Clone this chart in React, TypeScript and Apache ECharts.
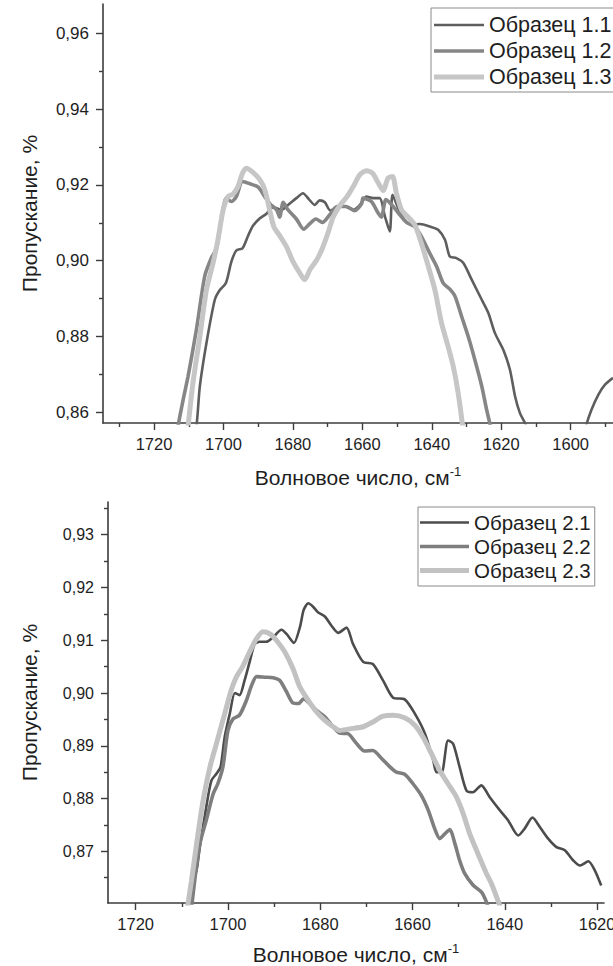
import React, { useEffect, useRef } from 'react';
import * as echarts from 'echarts';

// ---------- data: [wavenumber, transmittance] ----------
const s11a = [
  [1708.9, 0.853], [1707.8, 0.8563], [1706.8, 0.8669], [1704.9, 0.8783], [1702.5, 0.8897], [1701.1, 0.8922],
  [1699.3, 0.8941], [1697.7, 0.8998], [1696.3, 0.9027], [1694.5, 0.9033], [1692.9, 0.9066], [1691.5, 0.9092],
  [1689.5, 0.9112], [1687.6, 0.9124], [1685.7, 0.9141], [1683.3, 0.9134], [1681.4, 0.9147], [1679.0, 0.9165],
  [1677.1, 0.9178], [1675.3, 0.9161], [1673.7, 0.9147], [1672.3, 0.9159], [1670.8, 0.9154], [1669.2, 0.9132],
  [1667.5, 0.9141], [1665.0, 0.9143], [1662.6, 0.9134], [1660.7, 0.9147], [1658.8, 0.9169], [1656.9, 0.9165],
  [1655.0, 0.9165], [1653.5, 0.9117], [1652.1, 0.9077], [1651.3, 0.9174], [1649.7, 0.9139], [1648.2, 0.9112],
  [1645.8, 0.9095], [1643.4, 0.9097], [1640.5, 0.909], [1638.1, 0.9081], [1636.2, 0.9055], [1634.8, 0.9011],
  [1632.9, 0.9007], [1630.9, 0.8994], [1628.5, 0.895], [1625.6, 0.8897], [1623.7, 0.8862], [1621.8, 0.8809],
  [1619.4, 0.8765], [1617.5, 0.8713], [1616.0, 0.8642], [1614.6, 0.8598], [1612.7, 0.8563], [1612.0, 0.853],
];
const s11b = [
  [1596.2, 0.853], [1595.6, 0.8563], [1594.0, 0.8607], [1592.0, 0.8647], [1590.1, 0.8673], [1587.8, 0.8691],
];
const s12 = [
  [1713.5, 0.853], [1713.1, 0.8563], [1711.6, 0.8634], [1710.2, 0.8695], [1707.8, 0.8818], [1705.4, 0.8959],
  [1703.5, 0.9007], [1702.0, 0.9033], [1700.6, 0.9108], [1699.2, 0.9165], [1697.7, 0.9156], [1696.3, 0.9169],
  [1694.5, 0.9209], [1692.4, 0.9203], [1690.0, 0.9194], [1688.1, 0.9169], [1686.6, 0.915], [1684.7, 0.9134],
  [1683.8, 0.9115], [1682.8, 0.9154], [1681.4, 0.9134], [1679.0, 0.911], [1676.9, 0.9083], [1675.2, 0.9097],
  [1673.4, 0.911], [1671.5, 0.9101], [1669.4, 0.9121], [1667.3, 0.9143], [1664.6, 0.9143], [1662.2, 0.9132],
  [1660.2, 0.915], [1659.8, 0.9165], [1657.4, 0.9156], [1655.4, 0.9125], [1654.5, 0.9115], [1653.2, 0.9161],
  [1651.1, 0.9143], [1649.2, 0.9121], [1647.3, 0.9101], [1644.9, 0.909], [1643.0, 0.9064], [1640.6, 0.902],
  [1638.6, 0.8985], [1636.7, 0.8941], [1634.8, 0.8925], [1633.3, 0.8906], [1631.4, 0.8853], [1629.5, 0.88],
  [1627.6, 0.8739], [1625.6, 0.8669], [1624.2, 0.8607], [1623.1, 0.8563], [1622.7, 0.853],
];
const s13 = [
  [1710.6, 0.853], [1710.2, 0.8563], [1708.8, 0.8677], [1706.8, 0.88], [1704.9, 0.8923], [1703.0, 0.8994],
  [1701.6, 0.9055], [1700.1, 0.9134], [1698.7, 0.9169], [1697.2, 0.9176], [1695.8, 0.9196], [1694.5, 0.9231],
  [1693.4, 0.9244], [1691.5, 0.9233], [1689.5, 0.9213], [1688.1, 0.9187], [1686.7, 0.9134], [1685.5, 0.909],
  [1683.8, 0.9066], [1681.9, 0.9038], [1680.0, 0.8998], [1678.0, 0.8967], [1676.6, 0.895], [1675.0, 0.8978],
  [1673.2, 0.9001], [1671.5, 0.9033], [1669.9, 0.9073], [1668.4, 0.9115], [1666.5, 0.9145], [1664.4, 0.9169],
  [1662.6, 0.9196], [1660.7, 0.9227], [1658.8, 0.9237], [1657.1, 0.9231], [1655.4, 0.9205], [1654.0, 0.9185],
  [1652.6, 0.9218], [1651.3, 0.9222], [1650.2, 0.9178], [1648.7, 0.9134], [1646.8, 0.9115], [1644.9, 0.9095],
  [1643.0, 0.9046], [1641.0, 0.8985], [1639.1, 0.8923], [1637.2, 0.8836], [1635.3, 0.8774], [1633.8, 0.8721],
  [1632.4, 0.8651], [1631.1, 0.8563], [1630.8, 0.853],
];
const s21 = [
  [1708.9, 0.857], [1707.6, 0.8645], [1706.8, 0.8664], [1706.1, 0.8708], [1704.7, 0.8784], [1703.6, 0.8834],
  [1702.5, 0.8847], [1701.6, 0.886], [1700.7, 0.8917], [1699.6, 0.8961], [1698.5, 0.9], [1697.5, 0.8996],
  [1696.4, 0.9024], [1695.3, 0.9059], [1694.2, 0.9093], [1693.1, 0.9097], [1691.7, 0.9097], [1690.2, 0.9106],
  [1688.4, 0.912], [1687.3, 0.9112], [1685.7, 0.9095], [1684.4, 0.9125], [1683.6, 0.9157], [1682.6, 0.917],
  [1681.6, 0.9164], [1680.5, 0.9153], [1679.0, 0.9145], [1677.6, 0.9128], [1676.1, 0.9114], [1674.3, 0.9124],
  [1672.9, 0.9093], [1670.7, 0.9059], [1668.6, 0.9055], [1666.4, 0.9024], [1664.2, 0.8991], [1661.7, 0.8988],
  [1659.5, 0.8961], [1657.3, 0.8923], [1655.5, 0.8872], [1654.8, 0.885], [1653.7, 0.885], [1652.3, 0.891],
  [1651.2, 0.8904], [1649.8, 0.886], [1648.3, 0.8815], [1646.9, 0.8812], [1645.1, 0.8825], [1643.3, 0.8803],
  [1641.1, 0.8778], [1639.3, 0.8759], [1637.1, 0.873], [1635.7, 0.8743], [1634.0, 0.8764], [1632.4, 0.8746],
  [1630.6, 0.8724], [1628.8, 0.8708], [1627.0, 0.8702], [1625.2, 0.8683], [1623.7, 0.8673], [1621.9, 0.8681],
  [1620.5, 0.8664], [1619.1, 0.8635],
];
const s22 = [
  [1708.2, 0.857], [1707.2, 0.8645], [1706.1, 0.8714], [1704.7, 0.8759], [1703.2, 0.8809], [1702.2, 0.8828],
  [1701.1, 0.886], [1700.0, 0.8929], [1698.9, 0.8951], [1697.5, 0.8958], [1696.0, 0.8986], [1694.9, 0.9014],
  [1693.8, 0.9031], [1692.0, 0.903], [1690.2, 0.9029], [1688.8, 0.9024], [1687.3, 0.9002], [1685.9, 0.8981],
  [1684.7, 0.898], [1683.6, 0.8989], [1682.3, 0.898], [1680.8, 0.8967], [1679.0, 0.8955], [1677.2, 0.8936],
  [1675.8, 0.8924], [1674.0, 0.8923], [1672.2, 0.8905], [1670.4, 0.889], [1668.6, 0.8891], [1666.7, 0.8876],
  [1664.9, 0.886], [1663.5, 0.885], [1661.7, 0.8846], [1659.9, 0.8828], [1658.1, 0.8806], [1656.6, 0.8778],
  [1655.2, 0.8743], [1654.1, 0.8724], [1653.0, 0.8733], [1651.9, 0.8741], [1650.8, 0.8714], [1649.8, 0.8683],
  [1648.7, 0.8658], [1646.9, 0.8636], [1645.0, 0.8622], [1643.9, 0.8602], [1643.5, 0.859],
];
const s23 = [
  [1709.2, 0.857], [1707.9, 0.8645], [1706.8, 0.8714], [1705.4, 0.8796], [1703.9, 0.886], [1702.5, 0.8904],
  [1700.7, 0.8961], [1699.3, 0.9005], [1698.2, 0.903], [1696.7, 0.9052], [1695.3, 0.9078], [1693.8, 0.9103],
  [1692.4, 0.9116], [1690.9, 0.9112], [1689.5, 0.91], [1687.7, 0.9078], [1685.9, 0.9046], [1684.4, 0.9011],
  [1682.6, 0.8986], [1680.8, 0.8964], [1679.0, 0.8948], [1677.2, 0.8936], [1675.8, 0.8929], [1673.6, 0.8932],
  [1670.7, 0.8936], [1668.6, 0.8945], [1666.4, 0.8956], [1664.2, 0.8958], [1661.7, 0.8953], [1659.5, 0.8939],
  [1657.7, 0.8916], [1655.9, 0.8885], [1654.1, 0.8853], [1652.3, 0.8828], [1650.5, 0.8803], [1649.0, 0.8771],
  [1647.6, 0.8733], [1645.8, 0.8695], [1644.0, 0.8658], [1642.9, 0.8639], [1641.0, 0.8595],
];

const topNames = ['Образец 1.1', 'Образец 1.2', 'Образец 1.3'];
const botNames = ['Образец 2.1', 'Образец 2.2', 'Образец 2.3'];
const topXTicks = [1720, 1700, 1680, 1660, 1640, 1620, 1600];
const topYTicks = [0.86, 0.88, 0.9, 0.92, 0.94, 0.96];
const botXTicks = [1720, 1700, 1680, 1660, 1640, 1620];
const botYTicks = [0.87, 0.88, 0.89, 0.9, 0.91, 0.92, 0.93];

const FONT = '"Liberation Sans", Arial, sans-serif';
const AX = '#3c3c3c';
const TXT = '#1e1e1e';
const C1 = '#5e5e5e', C2 = '#868686', C3 = '#c6c6c6';
const D1 = '#4c4c4c', D2 = '#7e7e7e', D3 = '#c2c2c2';
const W1 = 2.6, W2 = 3.6, W3 = 5;

// legend icon: a horizontal bar of thickness t inside a 50 x 14 box
function barIcon(t: number) {
  const a = (14 - t) / 2, b = a + t;
  return `path://M0,0L0.01,0L0.01,0.01Z M0,${a}L50,${a}L50,${b}L0,${b}Z M49.99,14L50,14L50,13.99Z`;
}

function xAxis(gridIndex: number, min: number, max: number, split: number, ticks: number[]) {
  return {
    gridIndex, type: 'value', inverse: true, min, max, splitNumber: split,
    axisLine: { show: true, onZero: false, lineStyle: { color: AX, width: 1.6 } },
    axisTick: { show: true, length: 7, customValues: ticks, lineStyle: { color: AX, width: 1.4 } },
    minorTick: { show: true, splitNumber: 2, length: 4, lineStyle: { color: AX, width: 1.4 } },
    splitLine: { show: false },
    axisLabel: {
      customValues: ticks, margin: 12, fontSize: 16.5, color: TXT, fontFamily: FONT,
      formatter: (v: number) => String(Math.round(v)),
    },
    name: '{a|Волновое число, см}{s|-1}',
    nameLocation: 'middle',
    nameGap: gridIndex === 0 ? 42 : 39,
    nameTextStyle: {
      rich: {
        a: { fontSize: 21, fontFamily: FONT, color: TXT, lineHeight: 24 },
        s: { fontSize: 13, fontFamily: FONT, color: TXT, verticalAlign: 'top', lineHeight: 14 },
      },
    },
  };
}

function yAxis(gridIndex: number, min: number, max: number, split: number, ticks: number[], fs: number, gap: number) {
  return {
    gridIndex, type: 'value', min, max, splitNumber: split,
    axisLine: { show: true, onZero: false, lineStyle: { color: AX, width: 1.6 } },
    axisTick: { show: true, length: 7, customValues: ticks, lineStyle: { color: AX, width: 1.4 } },
    minorTick: { show: true, splitNumber: 2, length: 4, lineStyle: { color: AX, width: 1.4 } },
    splitLine: { show: false },
    axisLabel: {
      customValues: ticks, margin: 14, fontSize: fs, color: TXT, fontFamily: FONT,
      formatter: (v: number) => v.toFixed(2).replace('.', ','),
    },
    name: 'Пропускание, %',
    nameLocation: 'middle',
    nameRotate: 90,
    nameGap: gap,
    nameTextStyle: { fontSize: 21, fontFamily: FONT, color: TXT },
  };
}

function line(name: string, data: number[][], idx: number, color: string, width: number) {
  return {
    type: 'line', name, data, xAxisIndex: idx, yAxisIndex: idx,
    showSymbol: false, symbol: 'none', smooth: 0.25, clip: true,
    lineStyle: { color, width }, itemStyle: { color },
  };
}

export default function App() {
  const ref = useRef<HTMLDivElement>(null);
  useEffect(() => {
    const chart = echarts.init(ref.current!, null, { renderer: 'svg' });
    chart.setOption({
      animation: false,
      backgroundColor: '#ffffff',
      grid: [
        { left: 103, top: 4, right: 0, height: 419, containLabel: false, outerBoundsMode: 'none' },
        { left: 108, top: 502, width: 496, height: 401, containLabel: false, outerBoundsMode: 'none' },
      ],
      xAxis: [
        xAxis(0, 1587.8, 1734.7, 7, topXTicks),
        xAxis(1, 1618.5, 1726.0, 5, botXTicks),
      ],
      yAxis: [
        yAxis(0, 0.8572, 0.9677, 5, topYTicks, 17, 63),
        yAxis(1, 0.8602, 0.9362, 7, botYTicks, 16, 68),
      ],
      legend: [
        {
          data: topNames.map((n, i) => ({ name: n, icon: barIcon([W1, W2, W3][i]) })),
          orient: 'vertical', left: 431, top: 8, selectedMode: false,
          itemWidth: 50, itemHeight: 14, itemGap: 4, padding: [6, 3, 4, 3],
          borderColor: '#8a8a8a', borderWidth: 1, backgroundColor: '#fff',
          textStyle: { fontSize: 21.5, fontFamily: FONT, color: TXT, lineHeight: 22 },
        },
        {
          data: botNames.map((n, i) => ({ name: n, icon: barIcon([W1, W2, W3][i]) })),
          orient: 'vertical', left: 418, top: 507, selectedMode: false,
          itemWidth: 49, itemHeight: 14, itemGap: 3, padding: [5, 4, 5, 2],
          borderColor: '#8a8a8a', borderWidth: 1, backgroundColor: '#fff',
          textStyle: { fontSize: 20.5, fontFamily: FONT, color: TXT, lineHeight: 21 },
        },
      ],
      series: [
        line(topNames[0], s11a, 0, C1, W1),
        line(topNames[0], s11b, 0, C1, W1),
        line(topNames[1], s12, 0, C2, W2),
        line(topNames[2], s13, 0, C3, W3),
        line(botNames[0], s21, 1, D1, W1),
        line(botNames[1], s22, 1, D2, W2),
        line(botNames[2], s23, 1, D3, W3),
      ],
    });
    return () => chart.dispose();
  }, []);
  return (
    <div
      ref={ref}
      style={{ position: 'fixed', left: 0, top: 0, width: 613, height: 966, background: '#fff' }}
    />
  );
}
